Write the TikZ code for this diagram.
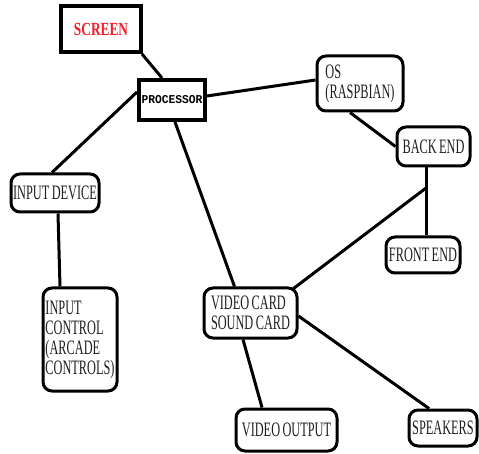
\documentclass[tikz,border=0pt]{standalone}
\usepackage{fontspec}
\setmainfont{Liberation Serif}
\newfontfamily\condfont{Liberation Serif}[FakeStretch=0.6,WordSpace=0.8]
\newfontfamily\screenfont{Liberation Serif}[FakeStretch=0.72]
\newfontfamily\procfont{Liberation Mono}[FakeStretch=0.94]
\definecolor{txtgray}{RGB}{30,30,30}
\definecolor{scrred}{RGB}{240,30,40}
\begin{document}
\begin{tikzpicture}[x=1pt,y=-1pt,
  sqbox/.style={draw=black, line width=4pt, inner sep=0pt},
  rbox/.style={draw=black, line width=3pt, rounded corners=9pt, inner sep=0pt,
    text=txtgray, font=\condfont\fontsize{20.5}{20}\selectfont},
  link/.style={draw=black, line width=3pt}]
\useasboundingbox (0,0) rectangle (479,454);
% square boxes
\node[sqbox, minimum width=80pt, minimum height=46pt, text=scrred,
  font=\screenfont\bfseries\fontsize{18.5}{20}\selectfont] (screen) at (101,29) {SCREEN};
\node[sqbox, minimum width=66pt, minimum height=40pt, text=black,
  font=\procfont\bfseries\fontsize{12}{14}\selectfont] (proc) at (172,100) {PROCESSOR};
% rounded boxes
\node[rbox, minimum width=86pt, minimum height=55pt, align=left] (os) at (360,83.5) {OS\\(RASPBIAN)};
\node[rbox, minimum width=73pt, minimum height=39pt] (back) at (433.5,146.5) {BACK END};
\node[rbox, minimum width=74pt, minimum height=36pt] (front) at (423,255) {FRONT END};
\node[rbox, minimum width=88pt, minimum height=38pt] (indev) at (55,193) {INPUT DEVICE};
\node[rbox, minimum width=74pt, minimum height=103pt, align=left] (inctl) at (80,339.5) {INPUT\\CONTROL\\(ARCADE\\CONTROLS)};
\node[rbox, minimum width=93pt, minimum height=50pt, align=left] (card) at (250.5,313) {VIDEO CARD\\SOUND CARD};
\node[rbox, minimum width=101pt, minimum height=42pt] (vout) at (286.5,430) {VIDEO OUTPUT};
\node[rbox, minimum width=68pt, minimum height=36pt] (spk) at (443,428) {SPEAKERS};
% connectors
\draw[link] ([xshift=-1pt]screen.south east) -- ([xshift=-10pt]proc.north);
\draw[link] ([yshift=4pt]proc.east) -- ([yshift=3.5pt]os.west);
\draw[link] ([yshift=8pt]proc.west) -- ([xshift=-3pt]indev.north);
\draw[link] ([xshift=3pt]proc.south) -- ([xshift=-16pt]card.north);
\draw[link] ([xshift=-10pt]os.south) -- (back.west);
\draw[link] ([xshift=-7.5pt]back.south) -- ([xshift=3pt]front.north);
\coordinate (j) at (426,188);
\draw[link] (j) -- ([xshift=-5pt,yshift=-2pt]card.north east);
\draw[link] ([xshift=-7.5pt]card.south) -- ([xshift=-24.5pt]vout.north);
\draw[link] ([yshift=-3pt]card.east) -- ([xshift=-14pt]spk.north);
\draw[link] ([xshift=3pt]indev.south) -- ([xshift=-20pt]inctl.north);
\end{tikzpicture}
\end{document}
